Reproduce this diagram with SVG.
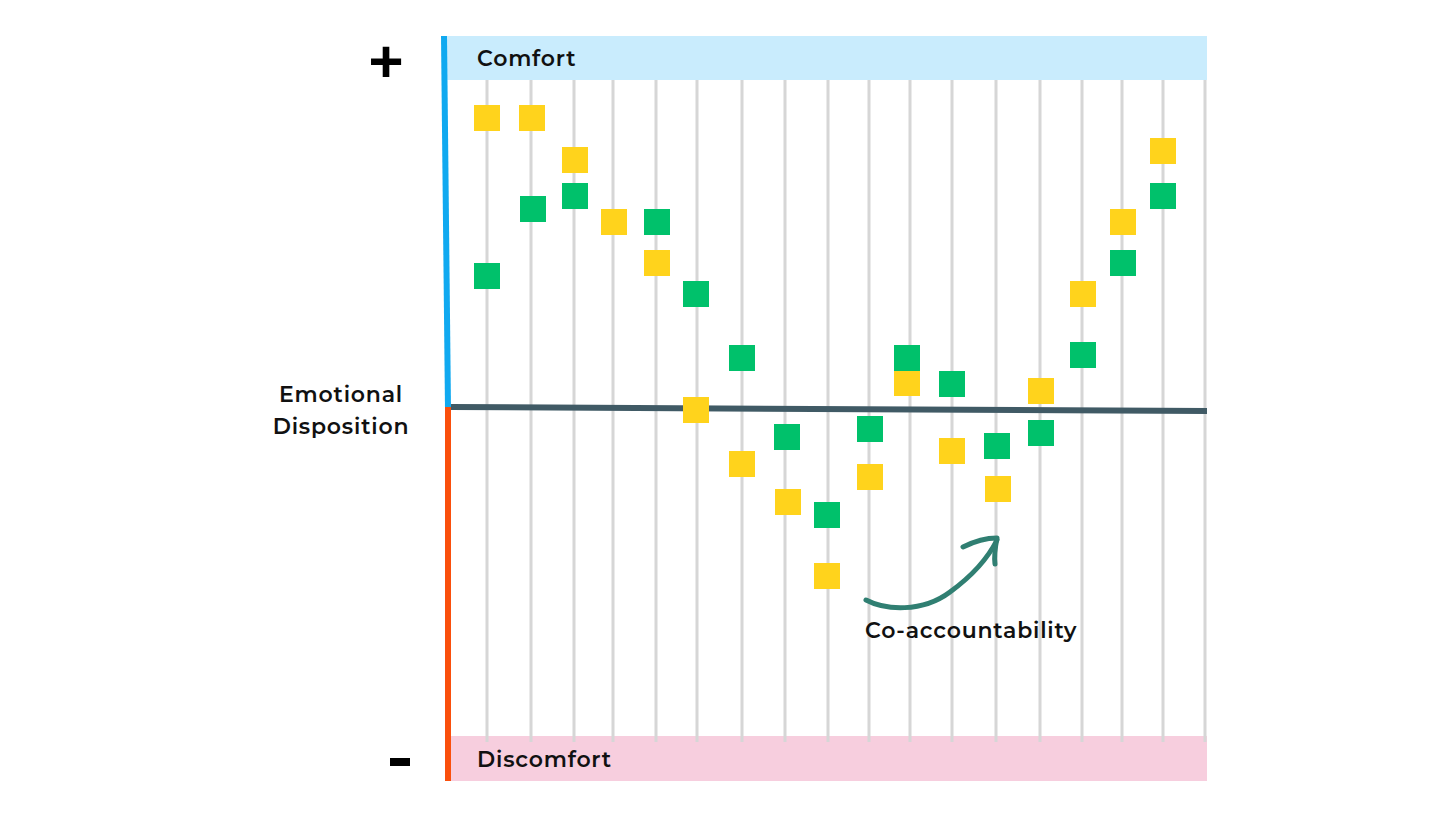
<svg xmlns="http://www.w3.org/2000/svg" width="1456" height="819" viewBox="0 0 1456 819">
<style>
.t{font-family:Montserrat,Inter,"Liberation Sans",sans-serif;font-weight:600;fill:#111;font-size:22px;letter-spacing:0.8px;}
.g{stroke:#d6d6d6;stroke-width:3;}
.y{fill:#ffd31c;}
.gr{fill:#00c16b;}
</style>
<rect width="1456" height="819" fill="#fff"/>
<g id="bands">
<rect x="447" y="36" width="760" height="44" fill="#c9ecfd"/>
<rect x="447" y="736" width="760" height="45" fill="#f7cede"/>
</g>
<g id="grid">
<line class="g" x1="487" y1="80" x2="487" y2="742"/>
<line class="g" x1="531" y1="80" x2="531" y2="742"/>
<line class="g" x1="574" y1="80" x2="574" y2="742"/>
<line class="g" x1="613" y1="80" x2="613" y2="742"/>
<line class="g" x1="656" y1="80" x2="656" y2="742"/>
<line class="g" x1="697" y1="80" x2="697" y2="742"/>
<line class="g" x1="742" y1="80" x2="742" y2="742"/>
<line class="g" x1="785" y1="80" x2="785" y2="742"/>
<line class="g" x1="828" y1="80" x2="828" y2="742"/>
<line class="g" x1="869" y1="80" x2="869" y2="742"/>
<line class="g" x1="910" y1="80" x2="910" y2="742"/>
<line class="g" x1="952" y1="80" x2="952" y2="742"/>
<line class="g" x1="996" y1="80" x2="996" y2="742"/>
<line class="g" x1="1040" y1="80" x2="1040" y2="742"/>
<line class="g" x1="1082" y1="80" x2="1082" y2="742"/>
<line class="g" x1="1122" y1="80" x2="1122" y2="742"/>
<line class="g" x1="1163" y1="80" x2="1163" y2="742"/>
<line class="g" x1="1205" y1="80" x2="1205" y2="742"/>
</g>
<g id="axes">
<line x1="444" y1="36" x2="448" y2="409" stroke="#10a9f0" stroke-width="6"/>
<line x1="448" y1="407" x2="448" y2="781" stroke="#fa4f0c" stroke-width="6"/>
<line x1="451" y1="407" x2="1207" y2="411" stroke="#405a65" stroke-width="6"/>
</g>
<g id="labels">
<text class="t" x="477" y="66">Comfort</text>
<text class="t" x="477" y="767">Discomfort</text>
<text class="t" x="341" y="402" text-anchor="middle">Emotional</text>
<text class="t" x="341" y="434" text-anchor="middle">Disposition</text>
<text class="t" x="865" y="638">Co-accountability</text>
<text x="386" y="82" font-family="Liberation Sans,sans-serif" font-weight="700" font-size="60" text-anchor="middle" fill="#000">+</text>
<rect x="390" y="758" width="20" height="8" fill="#000"/>
</g>
<g id="points">
<rect class="y" x="474" y="105" width="26" height="26"/>
<rect class="gr" x="474" y="263" width="26" height="26"/>
<rect class="y" x="519" y="105" width="26" height="26"/>
<rect class="gr" x="520" y="196" width="26" height="26"/>
<rect class="y" x="562" y="147" width="26" height="26"/>
<rect class="gr" x="562" y="183" width="26" height="26"/>
<rect class="y" x="601" y="209" width="26" height="26"/>
<rect class="gr" x="644" y="209" width="26" height="26"/>
<rect class="y" x="644" y="250" width="26" height="26"/>
<rect class="gr" x="683" y="281" width="26" height="26"/>
<rect class="y" x="683" y="397" width="26" height="26"/>
<rect class="gr" x="729" y="345" width="26" height="26"/>
<rect class="y" x="729" y="451" width="26" height="26"/>
<rect class="gr" x="774" y="424" width="26" height="26"/>
<rect class="y" x="775" y="489" width="26" height="26"/>
<rect class="gr" x="814" y="502" width="26" height="26"/>
<rect class="y" x="814" y="563" width="26" height="26"/>
<rect class="gr" x="857" y="416" width="26" height="26"/>
<rect class="y" x="857" y="464" width="26" height="26"/>
<rect class="y" x="894" y="370" width="26" height="26"/>
<rect class="gr" x="894" y="345" width="26" height="26"/>
<rect class="gr" x="939" y="371" width="26" height="26"/>
<rect class="y" x="939" y="438" width="26" height="26"/>
<rect class="gr" x="984" y="433" width="26" height="26"/>
<rect class="y" x="985" y="476" width="26" height="26"/>
<rect class="y" x="1028" y="378" width="26" height="26"/>
<rect class="gr" x="1028" y="420" width="26" height="26"/>
<rect class="y" x="1070" y="281" width="26" height="26"/>
<rect class="gr" x="1070" y="342" width="26" height="26"/>
<rect class="y" x="1110" y="209" width="26" height="26"/>
<rect class="gr" x="1110" y="250" width="26" height="26"/>
<rect class="y" x="1150" y="138" width="26" height="26"/>
<rect class="gr" x="1150" y="183" width="26" height="26"/>
</g>
<g id="connectors" fill="none" stroke="#307f72" stroke-width="5" stroke-linecap="round" stroke-linejoin="round">
<path d="M866,600 C885,610 922,613 950,592 C972,576 988,558 997,540"/>
<path d="M963,547 C975,541 988,538 997,538 C995,548 994,556 995,564"/>
</g>
</svg>
